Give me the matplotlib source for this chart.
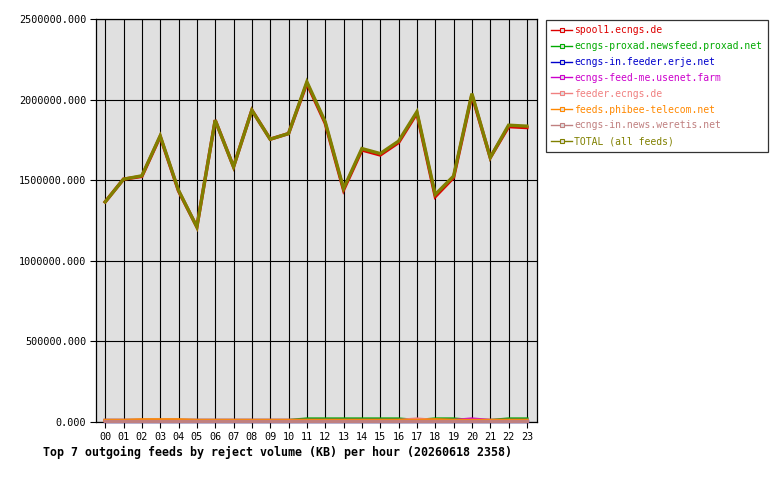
import matplotlib
matplotlib.use("Agg")
import matplotlib.pyplot as plt
import matplotlib.transforms as mtransforms
from matplotlib.lines import Line2D

hours = ["00", "01", "02", "03", "04", "05", "06", "07", "08", "09", "10", "11",
         "12", "13", "14", "15", "16", "17", "18", "19", "20", "21", "22", "23"]

total = [1356000, 1497000, 1518000, 1766000, 1428000, 1201000, 1863000, 1574000,
         1925000, 1745000, 1780000, 2101000, 1853000, 1439000, 1687000, 1656000,
         1733000, 1915000, 1402000, 1516000, 2028000, 1631000, 1832000, 1826000]
proxad = [0, 0, 0, 0, 0, 0, 0, 0, 0, 0, 0, 9000, 9000, 9000, 9000, 9000,
          9000, 0, 9000, 9000, 0, 0, 9000, 9000]
erje = [0] * 24
usenet_farm = [0] * 20 + [9000] + [0] * 3
feeder_ecngs = [0] * 17 + [9000] + [0] * 6
phibee = [0, 0, 4000, 4000, 4000, 0, 0, 0, 0, 0, 0, 0, 0, 0, 0, 0, 0, 0,
          4000, 0, 0, 0, 0, 0]
weretis = [0] * 24
others = [proxad, erje, usenet_farm, feeder_ecngs, phibee, weretis]
spool1 = [t - sum(o[i] for o in others) for i, t in enumerate(total)]

feeds = [
    ("spool1.ecngs.de", spool1, "#dd0000"),
    ("ecngs-proxad.newsfeed.proxad.net", proxad, "#00aa00"),
    ("ecngs-in.feeder.erje.net", erje, "#0000cc"),
    ("ecngs-feed-me.usenet.farm", usenet_farm, "#cc00cc"),
    ("feeder.ecngs.de", feeder_ecngs, "#f08080"),
    ("feeds.phibee-telecom.net", phibee, "#ff8800"),
    ("ecngs-in.news.weretis.net", weretis, "#c08080"),
    ("TOTAL (all feeds)", total, "#808000"),
]

yticks = [0, 500000, 1000000, 1500000, 2000000, 2500000]

mono = "DejaVu Sans Mono"
fig = plt.figure(figsize=(7.8, 4.8), dpi=100)
ax = fig.add_axes([96 / 780, 58 / 480, 441 / 780, 403 / 480])
ax.set_facecolor("#e0e0e0")

# lines sit just above the axis line, as in the original rendering
lift = mtransforms.offset_copy(ax.transData, fig=fig, x=0, y=1.5, units="dots")

x = list(range(len(hours)))
handles = []
for name, vals, color in feeds:
    ax.plot(x, vals, color=color, lw=2.4, transform=lift, solid_joinstyle="miter",
            zorder=3, clip_on=False)
    handles.append(Line2D([], [], color=color, lw=1.0, marker="s", markersize=3,
                          markerfacecolor="#e0e0e0", markeredgewidth=0.8,
                          label=name))

ax.set_xlim(-0.5, 23.55)
ax.set_ylim(0, 2500000)
ax.set_xticks(x)
ax.set_xticklabels(hours, fontfamily=mono, fontsize=7.3)
ax.set_yticks(yticks)
ax.set_yticklabels([f"{v:.3f}" for v in yticks], fontfamily=mono, fontsize=7.3)
ax.grid(True, color="black", lw=0.8, zorder=1)
ax.set_axisbelow(True)
ax.tick_params(direction="out", length=4, width=0.8, color="black", pad=3)
for sp in ax.spines.values():
    sp.set_linewidth(0.9)

leg = fig.legend(handles=handles, loc="upper left",
                 bbox_to_anchor=(546 / 780, 460 / 480), frameon=True,
                 prop={"family": mono, "size": 7.0}, handlelength=2.1,
                 handletextpad=0.25, labelspacing=0.6, borderpad=0.55,
                 borderaxespad=0, fancybox=False, edgecolor="black")
leg.get_frame().set_linewidth(0.9)
for txt, (_, _, color) in zip(leg.get_texts(), feeds):
    txt.set_color(color)

fig.text(43 / 780, 1 - 452 / 480,
         "Top 7 outgoing feeds by reject volume (KB) per hour (20260618 2358)",
         fontfamily=mono, fontweight="bold", fontsize=8.4, va="center", ha="left")

fig.savefig("out.png", dpi=100)
